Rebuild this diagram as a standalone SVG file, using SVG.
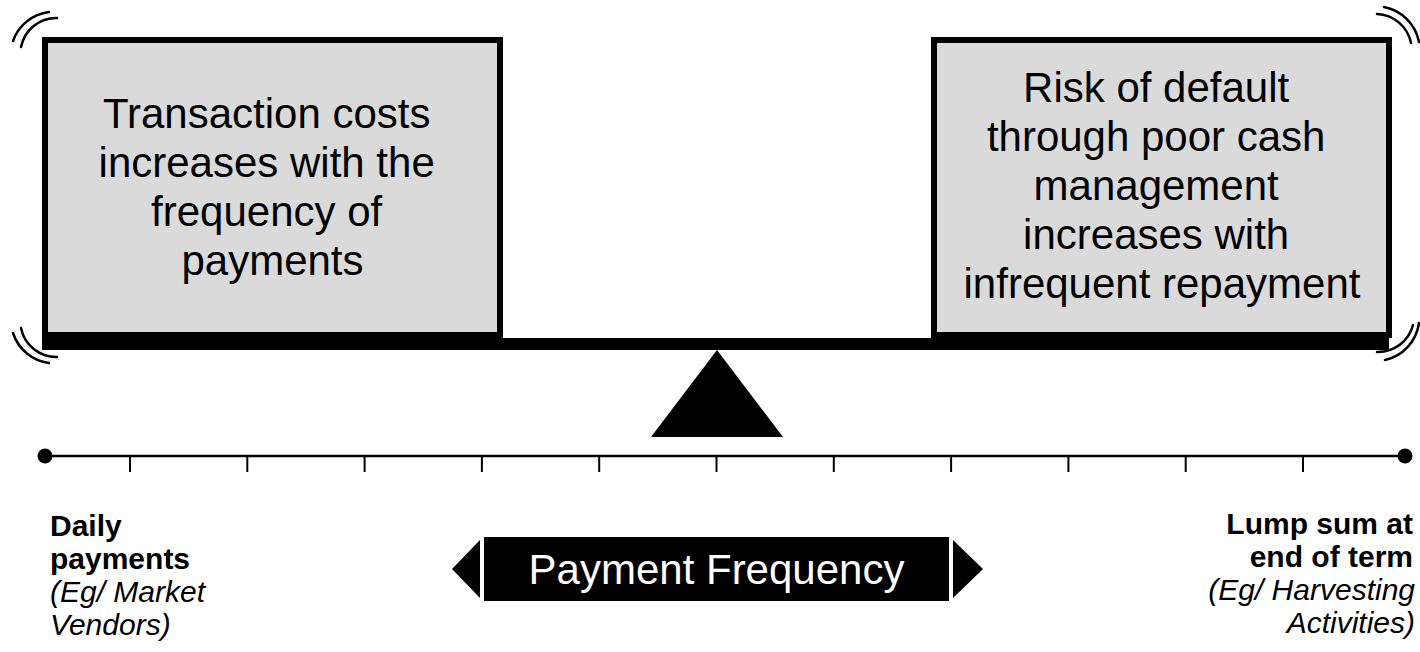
<svg xmlns="http://www.w3.org/2000/svg" width="1420" height="652" viewBox="0 0 1420 652">
  <style>
    .box { fill: #dadada; stroke: #000; stroke-width: 6; }
    .boxtxt { font-family: "Liberation Sans", Arial, sans-serif; font-size: 42px; fill: #000; text-anchor: middle; }
    .wave { fill: none; stroke: #000; stroke-width: 2.5; stroke-linecap: round; }
    .tick { stroke: #000; stroke-width: 2; }
    .lbl { font-family: "Liberation Sans", Arial, sans-serif; font-size: 30px; fill: #000; }
    .b { font-weight: bold; }
    .i { font-style: italic; }
  </style>

  <!-- motion marks around the tilting beam -->
  <g id="motion-marks">
    <path class="wave" d="M13,41 A44,44 0 0 1 49,12"/>
    <path class="wave" d="M21,47 A36,36 0 0 1 57,18"/>
    <path class="wave" d="M13,333 A44,44 0 0 0 49,363"/>
    <path class="wave" d="M21,328 A36,36 0 0 0 57,357"/>
    <path class="wave" d="M1384,7 A44,44 0 0 1 1419,42"/>
    <path class="wave" d="M1377,14 A36,36 0 0 1 1411,43"/>
    <path class="wave" d="M1419,323 A44,44 0 0 1 1385,360"/>
    <path class="wave" d="M1413,325 A36,36 0 0 1 1377,352"/>
  </g>

  <g id="box-transaction-costs">
    <rect class="box" x="45" y="40" width="455" height="295"/>
    <text class="boxtxt">
      <tspan x="272.5" y="128">Transaction costs</tspan>
      <tspan x="272.5" y="177">increases with the</tspan>
      <tspan x="272.5" y="226">frequency of</tspan>
      <tspan x="272.5" y="275">payments</tspan>
    </text>
  </g>

  <g id="box-default-risk">
    <rect class="box" x="934" y="40" width="455" height="295"/>
    <text class="boxtxt">
      <tspan x="1162" y="102">Risk of default</tspan>
      <tspan x="1162" y="151">through poor cash</tspan>
      <tspan x="1162" y="200">management</tspan>
      <tspan x="1162" y="249">increases with</tspan>
      <tspan x="1162" y="298">infrequent repayment</tspan>
    </text>
  </g>

  <g id="beam">
    <rect x="42" y="338" width="1347" height="12" fill="#000"/>
  </g>

  <g id="fulcrum">
    <polygon points="717,350 651,437 783,437" fill="#000"/>
  </g>

  <g id="connectors">
    <!-- frequency scale -->
    <line x1="45" y1="456" x2="1405" y2="456" stroke="#000" stroke-width="2.5"/>
    <circle cx="45" cy="456" r="7.5" fill="#000"/>
    <circle cx="1405" cy="456" r="7.5" fill="#000"/>
    <line class="tick" x1="130" y1="456" x2="130" y2="472"/>
    <line class="tick" x1="247.3" y1="456" x2="247.3" y2="472"/>
    <line class="tick" x1="364.6" y1="456" x2="364.6" y2="472"/>
    <line class="tick" x1="481.9" y1="456" x2="481.9" y2="472"/>
    <line class="tick" x1="599.2" y1="456" x2="599.2" y2="472"/>
    <line class="tick" x1="716.5" y1="456" x2="716.5" y2="472"/>
    <line class="tick" x1="833.8" y1="456" x2="833.8" y2="472"/>
    <line class="tick" x1="951.1" y1="456" x2="951.1" y2="472"/>
    <line class="tick" x1="1068.4" y1="456" x2="1068.4" y2="472"/>
    <line class="tick" x1="1185.7" y1="456" x2="1185.7" y2="472"/>
    <line class="tick" x1="1303" y1="456" x2="1303" y2="472"/>
  </g>

  <g id="label-daily">
    <text class="lbl b" x="50" y="536">Daily</text>
    <text class="lbl b" x="50" y="569">payments</text>
    <text class="lbl i" x="50" y="602">(Eg/ Market</text>
    <text class="lbl i" x="50" y="635">Vendors)</text>
  </g>

  <g id="label-lump-sum">
    <text class="lbl b" x="1413" y="534" text-anchor="end">Lump sum at</text>
    <text class="lbl b" x="1413" y="567" text-anchor="end">end of term</text>
    <text class="lbl i" x="1415" y="600" text-anchor="end">(Eg/ Harvesting</text>
    <text class="lbl i" x="1415" y="633" text-anchor="end">Activities)</text>
  </g>

  <g id="payment-frequency">
    <polygon points="452,569 480,540 480,598" fill="#000"/>
    <rect x="484" y="537" width="465" height="64" fill="#000"/>
    <polygon points="983,569 953,540 953,598" fill="#000"/>
    <text x="716.5" y="584" font-family="Liberation Sans, Arial, sans-serif" font-size="42" fill="#fff" text-anchor="middle">Payment Frequency</text>
  </g>
</svg>
